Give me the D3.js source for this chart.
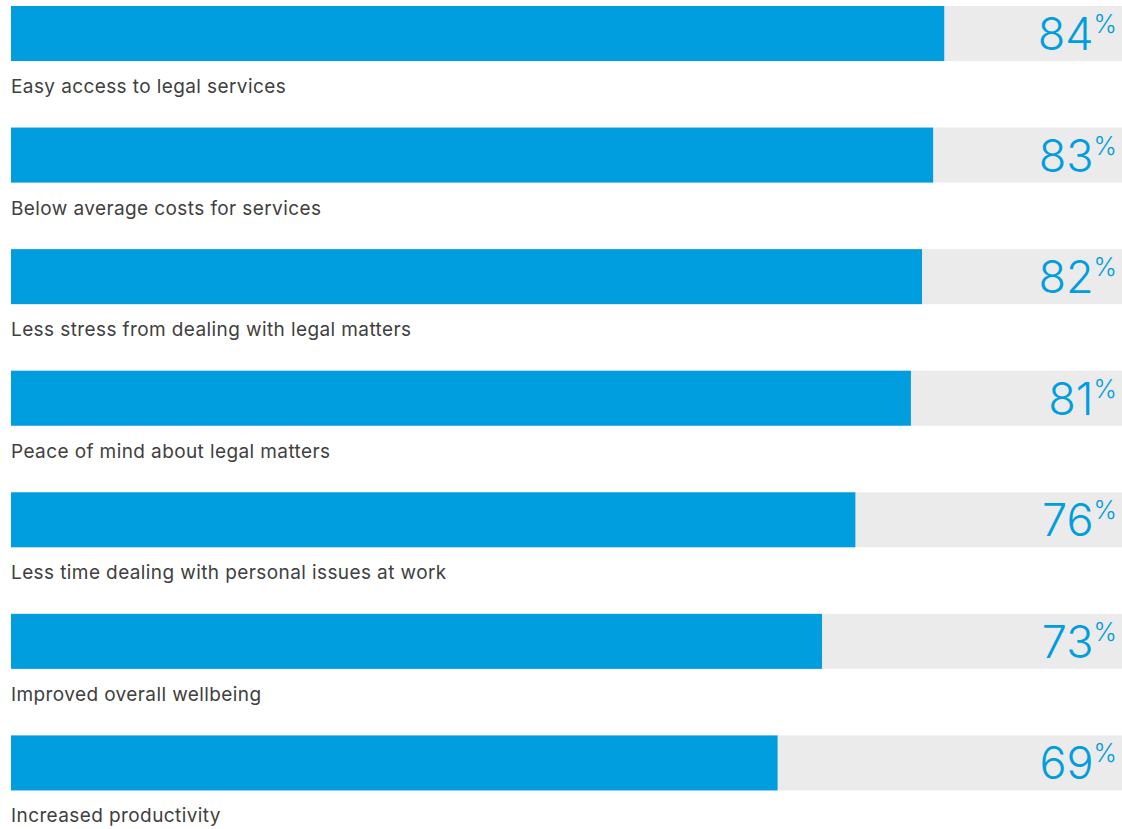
<!DOCTYPE html>
<html><head><meta charset="utf-8">
<script src="https://cdn.jsdelivr.net/npm/d3@7"></script>
<style>body{margin:0;background:#fff}svg{display:block}</style>
</head><body>
<svg id="c" width="1122" height="829"></svg>
<script>
const categories = ["Easy access to legal services","Below average costs for services","Less stress from dealing with legal matters","Peace of mind about legal matters","Less time dealing with personal issues at work","Improved overall wellbeing","Increased productivity"];
const values = [84,83,82,81,76,73,69];

const svg = d3.select("#c");
const x = d3.scaleLinear().domain([0,100]).range([11,1122]);
const y = d3.scaleBand().domain(categories).range([6,857]).paddingInner(0).paddingOuter(0);
const barH = 55;

const g = svg.selectAll("g.row").data(categories).join("g").attr("class","row")
  .attr("transform", d => `translate(0,${y(d)})`);

g.append("rect").attr("x", x(0)).attr("y", 0).attr("width", x(100)-x(0)).attr("height", barH).attr("fill", "#ebebeb");
g.append("rect").attr("x", x(0)).attr("y", 0).attr("width", (d,i) => x(values[i])-x(0)).attr("height", barH).attr("fill", "#009ddf");

g.append("text").attr("x", 11).attr("y", 87).text(d => d)
  .attr("font-family","Inter, sans-serif").attr("font-size", 19).attr("letter-spacing", 0.4).attr("fill","#404040");

const vt = g.append("text").attr("x", 1117).attr("y", 44).attr("text-anchor","end")
  .attr("font-family","Inter, sans-serif").attr("font-weight",300).attr("fill","#009ddf");
vt.append("tspan").attr("font-size",45).text((d,i)=>values[i]);
vt.append("tspan").attr("font-size",25).attr("dy",-17).text("%");
</script>
</body></html>
